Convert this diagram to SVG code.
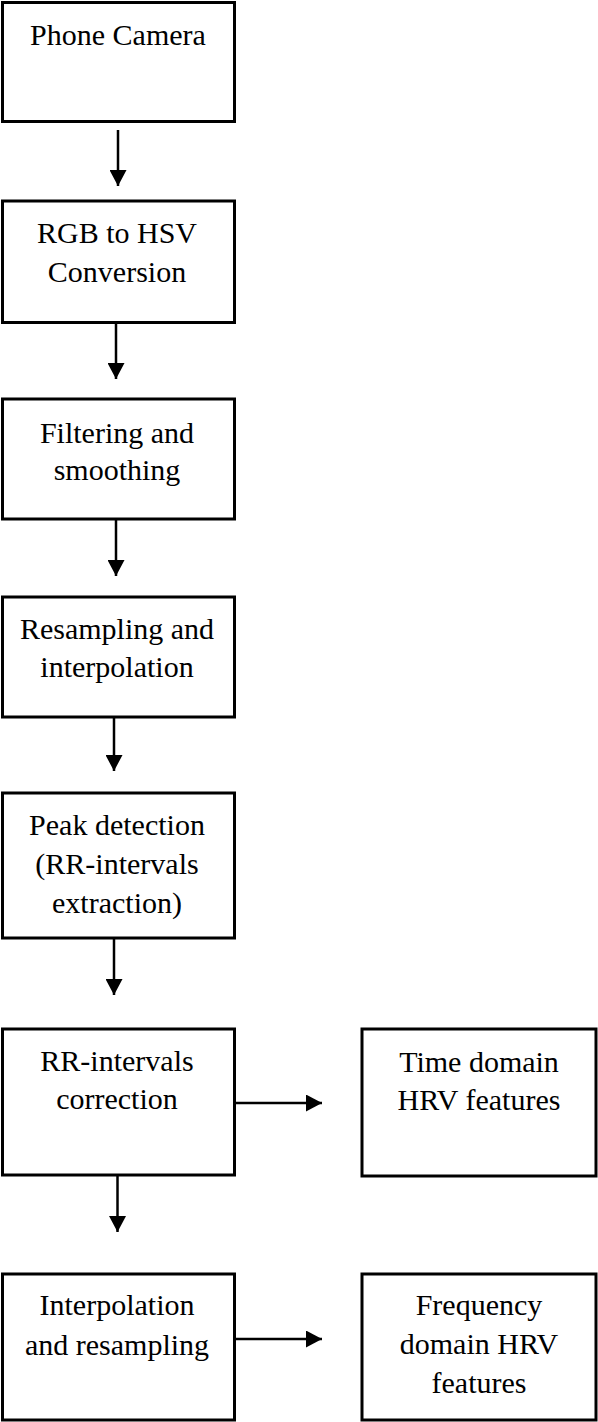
<svg xmlns="http://www.w3.org/2000/svg" width="598" height="1422" viewBox="0 0 598 1422">
<style>
.box{fill:#fff;stroke:#000;stroke-width:3}
.lbl{font-family:"Liberation Serif","Times New Roman",serif;font-size:30px;fill:#000;text-anchor:middle}
.conn{stroke:#000;stroke-width:2.5;fill:none;marker-end:url(#ah)}
</style>
<defs>
<marker id="ah" markerUnits="userSpaceOnUse" markerWidth="16" markerHeight="17" viewBox="0 0 16 17" refX="16" refY="8.5" orient="auto">
<path d="M0,0 L16,8.5 L0,17 z" fill="#000"/>
</marker>
</defs>
<rect width="598" height="1422" fill="#fff"/>
<g id="n1"><rect class="box" x="2.5" y="2.5" width="232" height="119"/><text class="lbl" x="118" y="45">Phone Camera</text></g>
<g id="n2"><rect class="box" x="2.5" y="201" width="232" height="121.5"/><text class="lbl" x="117" y="243">RGB to HSV</text><text class="lbl" x="117" y="282">Conversion</text></g>
<g id="n3"><rect class="box" x="2.5" y="399" width="232" height="120"/><text class="lbl" x="117" y="443">Filtering and</text><text class="lbl" x="117" y="480">smoothing</text></g>
<g id="n4"><rect class="box" x="2.5" y="597" width="232" height="120"/><text class="lbl" x="117" y="639">Resampling and</text><text class="lbl" x="117" y="677">interpolation</text></g>
<g id="n5"><rect class="box" x="2.5" y="793" width="232" height="145"/><text class="lbl" x="117" y="835">Peak detection</text><text class="lbl" x="117" y="874">(RR-intervals</text><text class="lbl" x="117" y="913">extraction)</text></g>
<g id="n6"><rect class="box" x="2.5" y="1029" width="232" height="146"/><text class="lbl" x="117" y="1071">RR-intervals</text><text class="lbl" x="117" y="1109">correction</text></g>
<g id="n7"><rect class="box" x="362" y="1029" width="234" height="147"/><text class="lbl" x="479" y="1072">Time domain</text><text class="lbl" x="479" y="1110">HRV features</text></g>
<g id="n8"><rect class="box" x="2.5" y="1274" width="232" height="146"/><text class="lbl" x="117" y="1315">Interpolation</text><text class="lbl" x="117" y="1355">and resampling</text></g>
<g id="n9"><rect class="box" x="362" y="1274" width="234" height="146"/><text class="lbl" x="479" y="1315">Frequency</text><text class="lbl" x="479" y="1354">domain HRV</text><text class="lbl" x="479" y="1393">features</text></g>
<g id="connectors">
<line class="conn" x1="118" y1="130" x2="118" y2="186"/>
<line class="conn" x1="116" y1="322.5" x2="116" y2="379"/>
<line class="conn" x1="116" y1="519" x2="116" y2="576"/>
<line class="conn" x1="114" y1="717" x2="114" y2="771"/>
<line class="conn" x1="114" y1="938" x2="114" y2="995"/>
<line class="conn" x1="235" y1="1103" x2="322" y2="1103"/>
<line class="conn" x1="117.5" y1="1175" x2="117.5" y2="1232"/>
<line class="conn" x1="235" y1="1339" x2="322" y2="1339"/>
</g>
</svg>
